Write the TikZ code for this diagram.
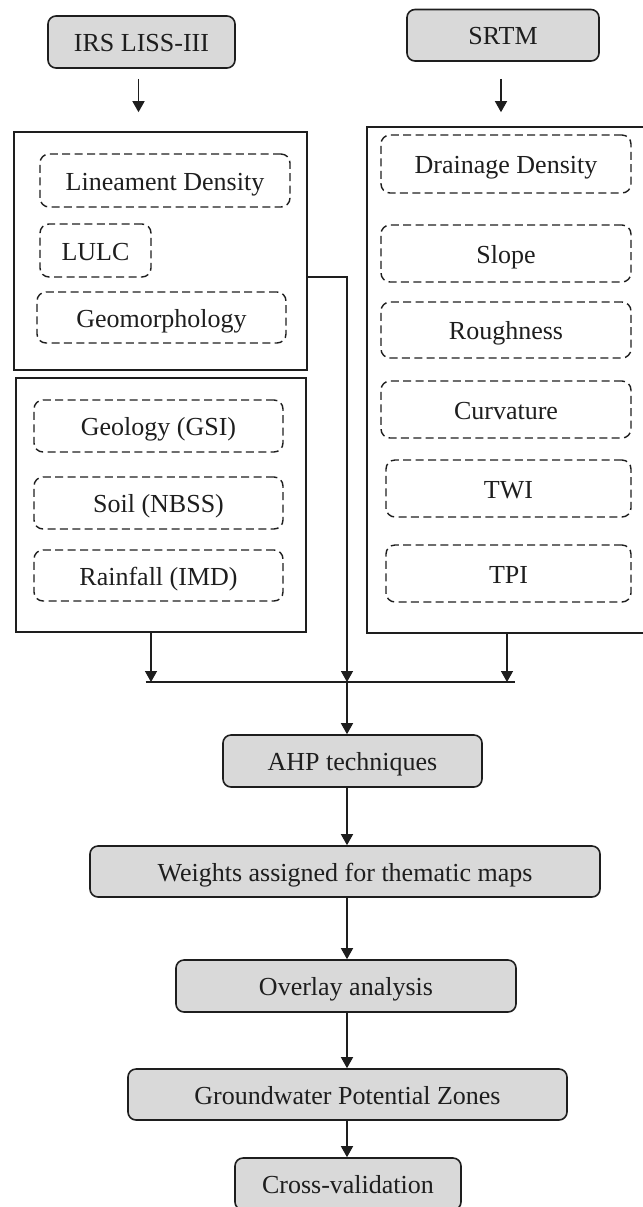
\documentclass[tikz,border=0pt]{standalone}
\usepackage{fontspec}
\setmainfont{Liberation Serif}
\usetikzlibrary{arrows.meta,calc}
\definecolor{boxgray}{HTML}{D9D9D9}
\definecolor{ink}{HTML}{1E1E1E}
\tikzset{
  gbox/.style={draw=ink, fill=boxgray, rounded corners=4pt, line width=0.8pt, inner sep=0pt, font=\fontsize{13pt}{15pt}\selectfont, text=ink, text height=12pt, text depth=2.4pt},
  dbox/.style={draw=ink, dash pattern=on 4pt off 2.2pt, rounded corners=4.5pt, line width=0.7pt, inner sep=0pt, font=\fontsize{13pt}{15pt}\selectfont, text=ink, text height=12pt, text depth=2.4pt},
  cbox/.style={draw=ink, line width=0.8pt, inner sep=0pt},
  arr/.style={draw=ink, line width=0.7pt, -{Triangle[length=5.5pt,width=6pt]}},
  plain/.style={draw=ink, line width=0.8pt}
}
\begin{document}
\begin{tikzpicture}[x=0.5pt,y=-0.5pt]
\useasboundingbox (0,0) rectangle (643,1207);
\clip (0,0) rectangle (643,1207);
% containers
\node[cbox, minimum width=146.5pt, minimum height=119pt] (lt) at (160.5,251) {};
\node[cbox, minimum width=145pt, minimum height=127pt] (lb) at (161,505) {};
\node[cbox, minimum width=141.5pt, minimum height=253pt] (rc) at (508.5,380) {};
% sources
\node[gbox, minimum width=93.5pt, minimum height=26pt] (irs) at (141.5,42) {IRS LISS-III};
\node[gbox, minimum width=96pt, minimum height=25.75pt] (srtm) at (503,35.25) {SRTM};
% left top
\node[dbox, minimum width=125pt, minimum height=26.5pt] (lin) at (165,180.5) {Lineament Density};
\node[dbox, minimum width=55.5pt, minimum height=26.5pt] (lulc) at (95.5,250.5) {LULC};
\node[dbox, minimum width=124.5pt, minimum height=25.5pt] (geo) at (161.5,317.5) {Geomorphology};
% left bottom
\node[dbox, minimum width=124.5pt, minimum height=26pt] (geol) at (158.5,426) {Geology (GSI)};
\node[dbox, minimum width=124.5pt, minimum height=26pt] (soil) at (158.5,503) {Soil (NBSS)};
\node[dbox, minimum width=124.5pt, minimum height=25.5pt] (rain) at (158.5,575.5) {Rainfall (IMD)};
% right
\node[dbox, minimum width=125pt, minimum height=29pt] (drain) at (506,164) {Drainage Density};
\node[dbox, minimum width=125pt, minimum height=28.5pt] (slope) at (506,253.5) {Slope};
\node[dbox, minimum width=125pt, minimum height=28pt] (rough) at (506,330) {Roughness};
\node[dbox, minimum width=125pt, minimum height=28.5pt] (curv) at (506,409.5) {Curvature};
\node[dbox, minimum width=122.5pt, minimum height=28.5pt] (twi) at (508.5,488.5) {TWI};
\node[dbox, minimum width=122.5pt, minimum height=28.5pt] (tpi) at (508.5,573.5) {TPI};
% process chain
\node[gbox, minimum width=129.5pt, minimum height=26pt] (ahp) at (352.5,761) {AHP techniques};
\node[gbox, minimum width=255pt, minimum height=25.5pt] (wts) at (345,871.5) {Weights assigned for thematic maps};
\node[gbox, minimum width=170pt, minimum height=26pt] (ovl) at (346,986) {Overlay analysis};
\node[gbox, minimum width=219.5pt, minimum height=25.5pt] (gpz) at (347.5,1094.5) {Groundwater Potential Zones};
\node[gbox, minimum width=113pt, minimum height=26pt] (cv) at (348,1184) {Cross-validation};
% merge coordinates
\coordinate (mL) at (145.5,682);
\coordinate (mR) at (515,682);
\coordinate (mC) at (347,682);
% arrows from sources
\draw[arr, shorten <=5pt, shorten >=9.5pt] ([xshift=-1.5pt]irs.south) -- ([xshift=-1.5pt]irs.south |- lt.north);
\draw[arr, shorten <=8.5pt, shorten >=7pt] ([xshift=-1pt]srtm.south) -- ([xshift=-1pt]srtm.south |- rc.north);
% into merge
\draw[plain] (mL) -- (mR);
\draw[arr] ([xshift=-5pt]lb.south) -- ([xshift=-5pt]lb.south |- mC);
\draw[arr] ([xshift=-0.75pt]rc.south) -- ([xshift=-0.75pt]rc.south |- mC);
\draw[arr] ([yshift=-13pt]lt.east) -| (mC);
% chain
\draw[arr] (mC) -- (mC |- ahp.north);
\draw[arr] (ahp.south -| mC) -- (wts.north -| mC);
\draw[arr] (wts.south -| mC) -- (ovl.north -| mC);
\draw[arr] (ovl.south -| mC) -- (gpz.north -| mC);
\draw[arr] (gpz.south -| mC) -- (cv.north -| mC);
\end{tikzpicture}
\end{document}
